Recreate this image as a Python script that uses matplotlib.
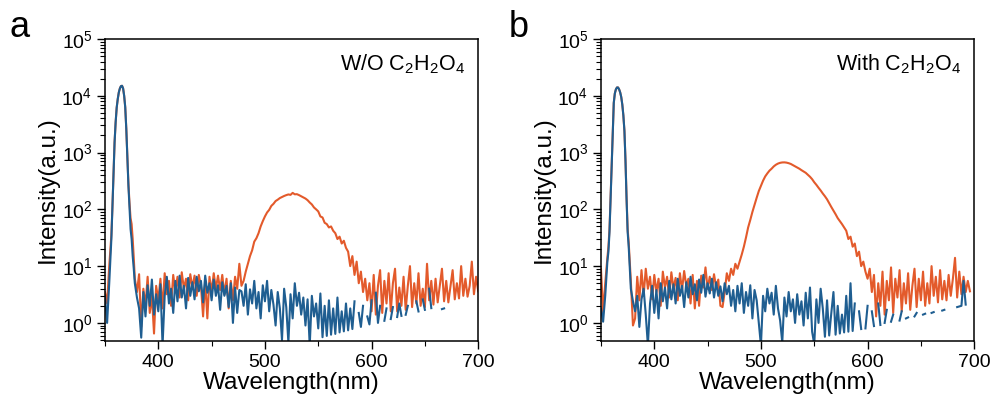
import numpy as np
import matplotlib
matplotlib.use("Agg")
import matplotlib.pyplot as plt
from matplotlib.ticker import MultipleLocator, LogLocator, NullFormatter

plt.rcParams['font.family'] = 'Liberation Sans'
plt.rcParams['mathtext.default'] = 'regular'

# wavelength grid (nm): 1 nm steps around the excitation peak, 2 nm elsewhere
wavelength = np.concatenate([np.arange(350, 356, 2), np.arange(356, 378), np.arange(378, 701, 2)])

# 0 = non-positive reading (not shown on log axis)
a_orange = [3.5, 2.2, 10,
            35, 110, 420, 1500, 3400, 6200, 8800, 11500, 13500, 14800,
            15000, 13500, 10000, 6300, 2600, 820, 280, 130, 70, 55,
            30, 14,
            6.0, 3.5, 7.2, 0.85, 4.0, 2.0, 6.5, 1.5, 3.0, 0.65,   # 378-396
            4.5, 2.5, 6.0, 1.8, 7.5, 3.2, 5.5, 2.0, 7.0, 3.5,     # 398-416
            6.5, 2.8, 7.8, 4.0, 6.0, 2.5, 7.2, 4.2, 6.8, 3.0,     # 418-436
            7.0, 4.5, 1.3, 5.5, 1.2, 6.5, 3.5, 7.5, 4.0, 6.8,     # 438-456
            3.8, 7.0, 3.2, 6.0, 1.8, 5.5, 2.5, 6.5, 4.0, 11,      # 458-476
            4.5, 5.5, 8.0, 11, 15, 19, 27, 31, 38, 50,            # 478-496
            62, 75, 88, 98, 115, 125, 140, 148, 158, 165,         # 498-516
            172, 178, 183, 180, 195, 184, 185, 178, 170, 162,     # 518-536
            155, 145, 132, 122, 108, 100, 92, 75, 72, 58,         # 538-556
            55, 48, 50, 42, 38, 30, 33, 25, 28, 21,               # 558-576
            18, 10, 15, 7, 12, 5, 8, 3.5, 6, 2.5,                 # 578-596
            5.0, 1.6, 7.0, 1.4, 4.5, 8.5, 1.5, 5.5, 2.2, 7.5,     # 598-616
            1.6, 5.0, 9.0, 1.6, 4.2, 2.0, 6.5, 1.7, 4.5, 10,      # 618-636
            1.9, 5.0, 2.2, 7.5, 2.0, 4.0, 1.9, 11, 2.5, 5.5,      # 638-656
            2.1, 6.0, 2.3, 4.5, 9.0, 2.4, 5.5, 2.3, 4.5, 8.5,     # 658-676
            2.6, 5.0, 2.7, 10, 3.0, 6.0, 2.9, 4.5, 12, 3.2,       # 678-696
            6.5, 3.6]                                             # 698-700

a_blue = [3.0, 1.0, 5.0,
          30, 110, 420, 1500, 3400, 6200, 8800, 11500, 13500, 14800,
          15000, 13500, 10000, 6300, 2600, 800, 260, 110, 45, 30,
          15, 9,
          5.0, 2.8, 1.8, 0.55, 3.5, 1.3, 4.6, 2.0, 5.8, 1.4,     # 378-396
          3.2, 1.6, 4.8, 0.4, 3.0, 6.5, 2.2, 4.0, 1.5, 5.5,      # 398-416
          2.4, 6.8, 2.8, 4.5, 1.8, 6.2, 3.0, 5.2, 2.6, 6.5,      # 418-436
          3.6, 5.5, 2.3, 6.8, 3.4, 5.0, 2.5, 5.8, 3.0, 4.6,      # 438-456
          1.7, 5.2, 3.0, 4.5, 1.9, 5.0, 1.0, 4.2, 1.5, 3.8,      # 458-476
          3.6, 2.0, 4.8, 1.4, 3.9, 2.2, 5.5, 1.8, 3.5, 1.2,      # 478-496
          4.6, 2.4, 5.5, 1.6, 3.8, 2.1, 0.9, 3.5, 1.8, 0.5,      # 498-516
          4.0, 1.9, 0.45, 3.2, 1.2, 5.0, 2.0, 3.4, 1.4, 2.8,     # 518-536
          0.9, 2.6, 0.4, 3.0, 1.3, 2.2, 0.8, 3.3, 0.56, 2.0,     # 538-556
          0.59, 2.5, 0.62, 1.8, 0.64, 2.8, 0.68, 1.6, 0.71, 2.2, # 558-576
          0.74, 1.8, 0.78, 2.4, 0, 1.5, 0.85, 2.0, 0, 1.3,       # 578-596
          0.94, 2.5, 0, 3.4, 1.0, 2.0, 0, 1.09, 1.8, 0,          # 598-616
          1.17, 1.9, 0, 1.27, 2.2, 1.33, 0, 1.39, 2.0, 0,        # 618-636
          1.49, 0, 2.4, 1.59, 0, 2.6, 1.7, 0, 4.0, 1.82,         # 638-656
          0, 0, 0, 0, 1.75, 1.8, 0, 0, 0, 0,                     # 658-676
          0, 0, 0, 0, 0, 0, 0, 0, 0, 0,                          # 678-696
          0, 0]                                                  # 698-700

b_orange = [9.0, 1.5, 5.0,
            14, 22, 45, 160, 620, 2300, 7500, 11000, 13000, 14000,
            14000, 13000, 11500, 9500, 7000, 4500, 2400, 720, 160, 45,
            26, 12,
            5.5, 0.9, 1.2, 6.5, 2.5, 8.5, 3.0, 9.0, 4.0, 6.5,     # 378-396
            2.6, 7.0, 3.5, 6.0, 2.0, 8.0, 4.2, 6.5, 2.8, 7.8,     # 398-416
            4.0, 6.2, 2.5, 7.5, 3.8, 8.2, 4.5, 6.0, 2.2, 7.0,     # 418-436
            1.8, 5.5, 2.0, 6.8, 4.2, 9.5, 4.0, 6.5, 3.8, 7.2,     # 438-456
            4.2, 5.8, 2.0, 1.9, 3.5, 7.5, 5.5, 9.0, 7.0, 11,      # 458-476
            9, 12, 16, 22, 32, 48, 65, 90, 120, 160,              # 478-496
            210, 260, 320, 380, 430, 480, 520, 570, 610, 640,     # 498-516
            660, 670, 672, 665, 650, 630, 600, 570, 545, 520,     # 518-536
            490, 465, 440, 405, 375, 340, 300, 270, 240, 215,     # 538-556
            190, 170, 150, 128, 110, 95, 82, 70, 62, 55,          # 558-576
            48, 42, 30, 33, 22, 25, 15, 18, 10, 12,               # 578-596
            8, 6, 9, 3.5, 7, 1.3, 5.0, 2.0, 8.0, 1.4,             # 598-616
            5.5, 2.5, 9.5, 1.5, 6.0, 2.8, 8.5, 1.6, 5.0, 2.2,     # 618-636
            7.5, 1.7, 4.5, 9.0, 1.9, 6.0, 2.5, 8.0, 2.0, 5.0,     # 638-656
            2.2, 10, 3.0, 6.5, 2.3, 8.5, 2.6, 5.5, 2.5, 7.0,      # 658-676
            3.0, 6.0, 14, 2.8, 8.0, 3.2, 6.5, 3.5, 5.5, 3.6,      # 678-696
            0, 0]                                                 # 698-700

b_blue = [1.8, 1.05, 3.0,
          12, 18, 40, 150, 600, 2300, 7500, 11000, 13000, 14000,
          14000, 13000, 11500, 9500, 7000, 4500, 2400, 700, 150, 40,
          22, 9,
          4.0, 2.4, 1.6, 3.0, 0.85, 2.6, 4.0, 1.4, 0.4, 2.2,     # 378-396
          4.5, 1.5, 3.8, 1.2, 5.0, 2.4, 4.2, 1.8, 5.5, 2.6,      # 398-416
          4.8, 2.2, 6.0, 3.0, 4.5, 1.9, 5.2, 2.8, 6.5, 3.2,      # 418-436
          4.8, 2.5, 5.8, 3.4, 7.0, 2.9, 5.0, 3.3, 6.0, 2.8,      # 438-456
          5.2, 3.0, 4.4, 2.4, 5.0, 3.2, 4.5, 2.0, 3.8, 1.6,      # 458-476
          4.5, 2.2, 5.0, 1.5, 3.5, 2.0, 4.6, 1.2, 3.8, 2.5,      # 478-496
          1.0, 0.4, 3.0, 1.6, 4.0, 2.2, 3.4, 1.4, 4.5, 1.8,      # 498-516
          1.1, 0.45, 2.8, 1.3, 3.5, 1.6, 2.6, 1.0, 3.2, 1.4,     # 518-536
          2.4, 0.9, 3.4, 1.2, 4.2, 0.7, 0.42, 2.6, 1.0, 4.0,     # 538-556
          1.8, 0.57, 2.5, 0.6, 1.5, 3.5, 0.62, 2.0, 0.65, 1.4,   # 558-576
          0.68, 3.0, 0.7, 5.0, 0.72, 2.2, 0, 1.6, 0.78, 0,       # 578-596
          0.8, 2.0, 0, 1.6, 0.88, 0, 2.2, 0.92, 0, 1.0,          # 598-616
          1.7, 0, 1.05, 1.4, 0, 0, 1.1, 1.6, 0, 1.2,             # 618-636
          1.25, 0, 0, 1.3, 1.5, 0, 0, 1.4, 1.45, 0,              # 638-656
          0, 1.5, 1.55, 0, 0, 0, 1.65, 1.7, 0, 0,                # 658-676
          0, 0, 0, 1.9, 1.95, 2.0, 5.5, 2.1, 0, 0,               # 678-696
          0, 0]                                                  # 698-700

panels = [
    ('a', 'W/O C$_2$H$_2$O$_4$', a_orange, a_blue),
    ('b', 'With C$_2$H$_2$O$_4$', b_orange, b_blue),
]

orange = '#E35A2B'
blue = '#1F5E91'

fig = plt.figure(figsize=(9.94, 4.05), dpi=100)
lefts = [0.1056, 0.6046]
letter_x = [0.010, 0.512]

for i, (letter, note, orange_vals, blue_vals) in enumerate(panels):
    ax = fig.add_axes([lefts[i], 0.158, 0.3755, 0.7457])
    ax.plot(wavelength, orange_vals, color=orange, lw=1.5)
    ax.plot(wavelength, blue_vals, color=blue, lw=1.5)
    ax.set_yscale('log', nonpositive='mask')
    ax.set_xlim(350, 700)
    ax.set_ylim(0.48, 1e5)

    ax.xaxis.set_major_locator(MultipleLocator(100))
    ax.xaxis.set_minor_locator(MultipleLocator(50))
    ax.yaxis.set_major_locator(LogLocator(base=10, numticks=10))
    ax.yaxis.set_minor_locator(LogLocator(base=10, subs=np.arange(2, 10), numticks=20))
    ax.yaxis.set_minor_formatter(NullFormatter())
    ax.tick_params(which='both', direction='out', top=False, right=False, labelsize=14)
    ax.tick_params(which='major', length=6, width=1.0, pad=3)
    ax.tick_params(which='minor', length=3.5, width=0.8)
    for s in ax.spines.values():
        s.set_linewidth(1.1)

    ax.set_xlabel('Wavelength(nm)', fontsize=17.5, labelpad=1)
    ax.set_ylabel('Intensity(a.u.)', fontsize=17.5, labelpad=2)
    ax.text(0.965, 0.915, note, transform=ax.transAxes, ha='right', va='center', fontsize=15.5)
    fig.text(letter_x[i], 0.909, letter, fontsize=26, va='baseline')

fig.savefig('out.png', dpi=100)
